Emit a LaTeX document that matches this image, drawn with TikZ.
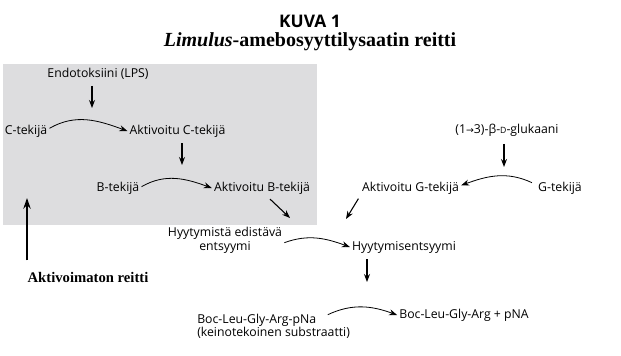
\documentclass[tikz,border=0pt]{standalone}
\usepackage{fontspec}
\setmainfont{Open Sans}
\newfontfamily\timesfont{Liberation Serif}
\newfontfamily\symfont{DejaVu Sans}
\usetikzlibrary{arrows.meta}
\definecolor{panel}{RGB}{221,221,223}
\def\smD{{\fontsize{6.5}{7}\selectfont D}}

\begin{document}
\begin{tikzpicture}[x=0.75pt,y=-0.75pt,
    every node/.style={font=\fontsize{9.2}{10.5}\selectfont, inner sep=1.5pt},
    arr/.style={thick,-{Stealth[length=6pt,width=4.5pt]}},
    arc/.style={semithick,-{Stealth[length=6pt,width=4.5pt]}}]

    \useasboundingbox (0,0) rectangle (621,355);
    \fill[panel] (3,64) rectangle (317,225);

    % title
    \node[font=\bfseries\fontsize{13}{15}\selectfont,inner sep=0pt] (kuva) at (310,21) {KUVA 1};
    \node[font=\timesfont\bfseries\fontsize{15}{17}\selectfont,inner sep=0pt] (otsikko) at (310,42) {\textit{Limulus}-amebosyyttilysaatin reitti};

    % C and B factors
    \node (endo) at (98,74) {Endotoksiini (LPS)};
    \node (ctek) at (26,131) {C-tekijä};
    \node (actc) at (177.5,131) {Aktivoitu C-tekijä};
    \node (btek) at (118,188) {B-tekijä};
    \node (actb) at (262,188) {Aktivoitu B-tekijä};
    \node[align=center] (hyed) at (225,240) {Hyytymistä edistävä\\entsyymi};

    % G factor
    \node (gluk) at (507,130) {(1{\symfont\fontsize{7}{7}\selectfont →}3)-β-\smD-glukaani};
    \node (gtek) at (560,188) {G-tekijä};
    \node (actg) at (410.5,188) {Aktivoitu G-tekijä};
    \node (hyyt) at (404,247) {Hyytymisentsyymi};

    % substrate
    \node[anchor=west] (boc) at (195,320) {Boc-Leu-Gly-Arg-pNa};
    \node[anchor=west] (subs) at (195,332.5) {(keinotekoinen substraatti)};
    \node (pna) at (464,315) {Boc-Leu-Gly-Arg + pNA};

    \node[font=\timesfont\bfseries\fontsize{11}{13}\selectfont] (reitti) at (88,277) {Aktivoimaton reitti};

    \coordinate (c1) at (92,108);
    \coordinate (c2) at (182,165);
    \coordinate (c3) at (290,218);
    \coordinate (c4) at (504,167);
    \coordinate (c5) at (346,219);
    \coordinate (c6) at (367,282);
    \coordinate (c7) at (27,198);

    \draw[arr,shorten <=3pt] (c1 |- endo.south) -- (c1);
    \draw[arc] ([yshift=2pt]ctek.east) to[out=30,in=160] (actc.west);
    \draw[arr,shorten <=3pt] (c2 |- actc.south) -- (c2);
    \draw[arc] ([yshift=1pt]btek.east) to[out=30,in=160] (actb.west);
    \draw[arr] ([xshift=6pt,yshift=-2pt]actb.south) -- (c3);
    \draw[arc] ([yshift=-2pt]hyed.east) to[out=20,in=160] (hyyt.west);

    \draw[arr,shorten <=4pt] (c4 |- gluk.south) -- (c4);
    \draw[arc] ([xshift=-3pt,yshift=4pt]gtek.west) to[out=155,in=20] ([yshift=2pt]actg.east);
    \draw[arr,shorten <=2pt] (actg.south west) -- (c5);
    \draw[arr,shorten <=3pt] (c6 |- hyyt.south) -- (c6);
    \draw[arc] ([xshift=7pt,yshift=4pt]boc.east) to[out=25,in=160] (pna.west);

    \draw[very thick,-{Stealth[length=8pt,width=5.5pt]},shorten <=7pt] (c7 |- reitti.north) -- (c7);
\end{tikzpicture}
\end{document}
